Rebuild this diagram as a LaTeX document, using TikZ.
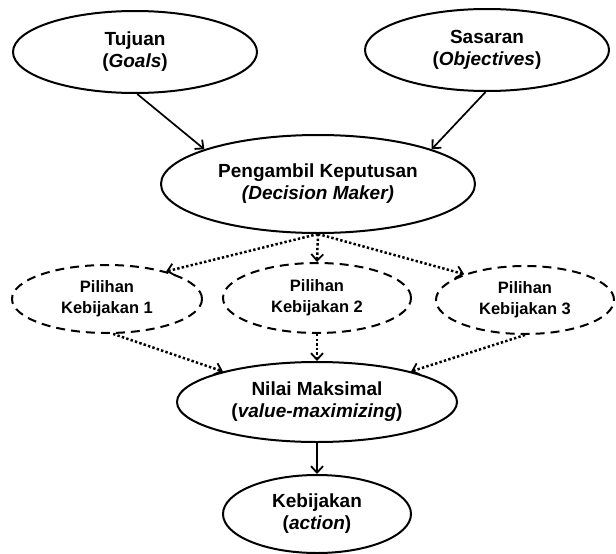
\documentclass[tikz,border=0pt]{standalone}
\usepackage{fontspec}
\setmainfont{Liberation Sans}
\usetikzlibrary{shapes.geometric,arrows.meta}
\begin{document}
\begin{tikzpicture}[x=1pt,y=-1pt,
  oval/.style={ellipse,draw,line width=2pt,inner sep=0pt,align=center,
    font=\fontsize{19}{22}\selectfont\bfseries},
  choice/.style={ellipse,draw,line width=2pt,dash pattern=on 9pt off 6pt,
    inner sep=0pt,align=center,font=\fontsize{16.5}{21}\selectfont\bfseries},
  solidarrow/.style={line width=1.7pt,-{Straight Barb[length=6.5pt,width=12pt,line width=1.8pt]}},
  dotarrow/.style={line width=2.5pt,dash pattern=on 2.4pt off 2.2pt,
    -{Straight Barb[length=6.5pt,width=12pt,line width=1.8pt]}}]
\useasboundingbox (0,0) rectangle (616,554);
\node[oval,minimum width=244pt,minimum height=82pt] (goal) at (135,52) {Tujuan\\(\textit{Goals})};
\node[oval,minimum width=244pt,minimum height=82pt] (obj) at (487,50) {Sasaran\\(\textit{Objectives})};
\node[oval,minimum width=314pt,minimum height=98pt] (dm) at (318,184) {Pengambil Keputusan\\\textit{(Decision Maker)}};
\node[choice,minimum width=190pt,minimum height=68pt] (p1) at (107,299) {Pilihan\\Kebijakan 1};
\node[choice,minimum width=188pt,minimum height=70pt] (p2) at (317,298) {Pilihan\\Kebijakan 2};
\node[choice,minimum width=178pt,minimum height=68pt] (p3) at (525,300) {Pilihan\\Kebijakan 3};
\node[oval,minimum width=280pt,minimum height=80pt] (nilai) at (317,402) {Nilai Maksimal\\(\textit{value-maximizing})};
\node[oval,minimum width=188pt,minimum height=78pt] (keb) at (317,514) {Kebijakan\\(\textit{action})};
\draw[solidarrow] (goal.-87) -- (dm.163);
\draw[solidarrow] (obj.-92) -- (dm.17);
\draw[dotarrow] (dm.south) -- (p1.25);
\draw[dotarrow] (dm.south) -- (p2.north);
\draw[dotarrow] (dm.south) -- (p3.157);
\draw[dotarrow] (p1.-80) -- (nilai.162);
\draw[dotarrow] (p2.south) -- (nilai.north);
\draw[dotarrow] (p3.south) -- (nilai.18);
\draw[solidarrow] (nilai.south) -- (keb.north);
\end{tikzpicture}
\end{document}
